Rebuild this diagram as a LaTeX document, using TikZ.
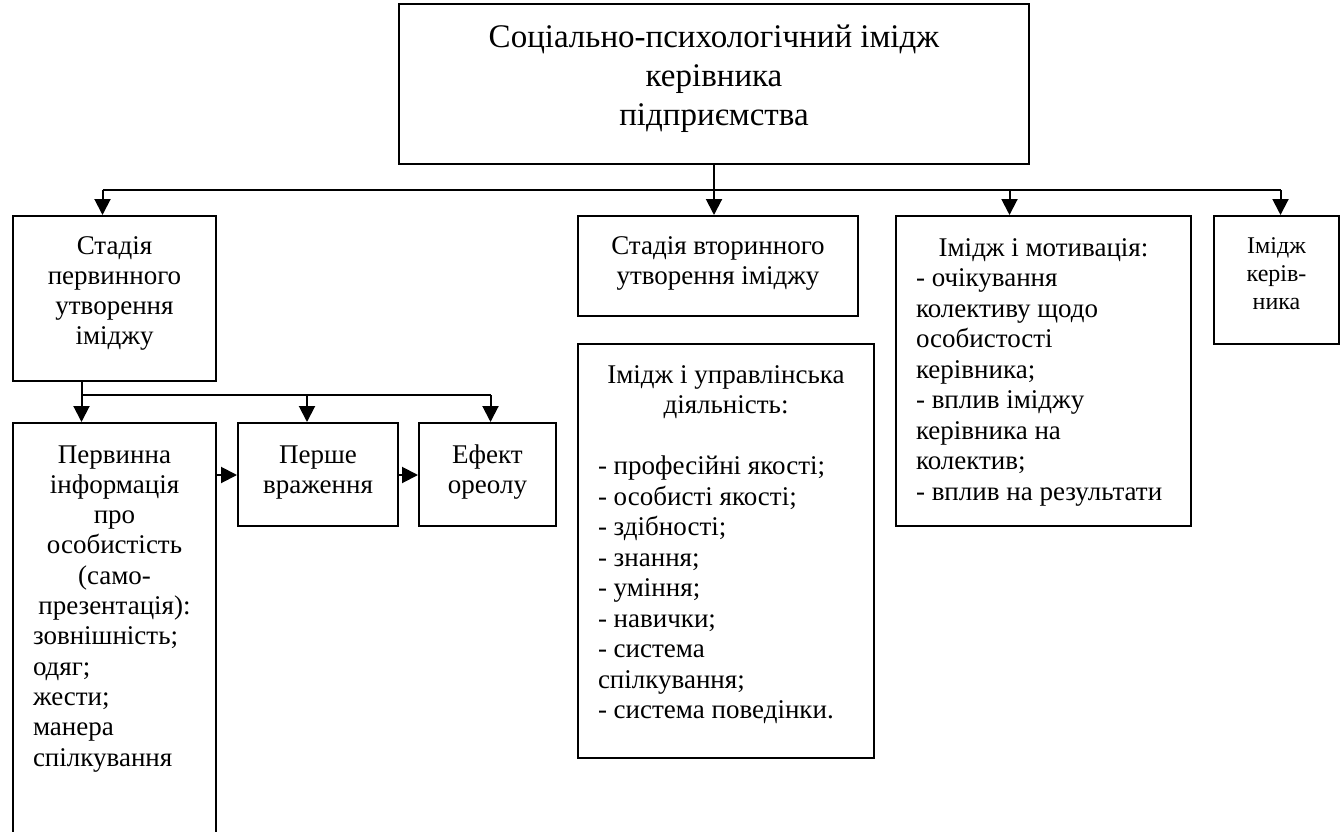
\documentclass[tikz,border=0pt]{standalone}
\usepackage{fontspec}
\setmainfont{Liberation Serif}
\usetikzlibrary{arrows.meta}
% text block of fixed size, first baseline at #3 below the top
\newcommand{\cell}[4]{\parbox[t][#2][t]{#1}{\centering\rule{0pt}{#3}#4}}
\newcommand{\lft}[1]{\makebox[\linewidth][l]{#1}}
\newcommand{\lfti}[1]{\makebox[\linewidth][l]{\hspace{15pt}#1}}
\begin{document}
\begin{tikzpicture}[x=1pt,y=-1pt,
	blk/.style={draw,line width=2pt,anchor=north west,inner xsep=5pt,inner ysep=0pt,
		font=\fontsize{27}{30.5}\selectfont},
	line/.style={line width=2pt},
	arr/.style={line,-{Triangle[width=16pt,length=16pt]}}]
	\useasboundingbox (0,0) rectangle (1343,832);
	% top
	\node[blk,font=\fontsize{33}{39}\selectfont] (top) at (398,3)
	{\cell{620pt}{160pt}{44pt}{Соціально-психологічний імідж\\керівника\\підприємства}};
	% first row
	\node[blk,font=\fontsize{27}{30}\selectfont] (A) at (12,215) {\cell{193pt}{165pt}{38pt}{Стадія\\первинного\\утворення\\іміджу}};
	\node[blk] (E) at (577,215) {\cell{270pt}{100pt}{38pt}{Стадія вторинного\\утворення іміджу}};
	\node[blk,inner xsep=20pt] (G) at (895,215) {\cell{255pt}{310pt}{40pt}{Імідж і мотивація:\\
		\lft{- очікування}\\\lft{колективу щодо}\\\lft{особистості}\\\lft{керівника;}\\
		\lft{- вплив іміджу}\\\lft{керівника на}\\\lft{колектив;}\\\lft{- вплив на результати}}};
	\node[blk,font=\fontsize{24}{28}\selectfont] (H) at (1213,215)
	{\cell{115pt}{128pt}{37pt}{Імідж\\керів-\\ника}};
	% second row
	\node[blk,font=\fontsize{27}{30.3}\selectfont] (B) at (12,422) {\cell{193pt}{420pt}{40pt}{Первинна\\інформація\\про\\особистість\\(само-\\презентація):\\
		\lfti{зовнішність;}\\\lfti{одяг;}\\\lfti{жести;}\\\lfti{манера}\\\lfti{спілкування}}};
	\node[blk] (C) at (237,422) {\cell{150pt}{103pt}{40pt}{Перше\\враження}};
	\node[blk] (D) at (418,422) {\cell{127pt}{103pt}{40pt}{Ефект\\ореолу}};
	\node[blk,inner xsep=20pt] (F) at (577,343) {\cell{256pt}{414pt}{39pt}{Імідж і управлінська\\діяльність:\\[30.5pt]
		\lft{- професійні якості;}\\\lft{- особисті якості;}\\\lft{- здібності;}\\\lft{- знання;}\\
		\lft{- уміння;}\\\lft{- навички;}\\\lft{- система}\\\lft{спілкування;}\\\lft{- система поведінки.}}};
	% connectors
	\coordinate (bus) at (713,190);
	\coordinate (a0) at ([xshift=-12pt]A.north);
	\coordinate (g0) at ([xshift=-34pt]G.north);
	\coordinate (h0) at ([xshift=4pt]H.north);
	\draw[line] (a0 |- bus) -- (h0 |- bus);
	\draw[arr] (top.south) -- (top.south |- E.north);
	\foreach \p in {a0,g0,h0}
	\draw[arr] (\p |- bus) -- (\p);
	\coordinate (sub) at (80,395);
	\coordinate (b0) at ([xshift=-33pt]B.north);
	\coordinate (c0) at ([xshift=-11pt]C.north);
	\coordinate (d0) at ([xshift=3pt]D.north);
	\draw[line] (A.south -| b0) -- (b0 |- sub) -- (d0 |- sub);
	\foreach \p in {b0,c0,d0}
	\draw[arr] (\p |- sub) -- (\p);
	\coordinate (bc) at ([yshift=-53pt]B.north east);
	\draw[arr] (bc) -- (bc -| C.west);
	\draw[arr] (bc -| C.east) -- (bc -| D.west);
\end{tikzpicture}
\end{document}
